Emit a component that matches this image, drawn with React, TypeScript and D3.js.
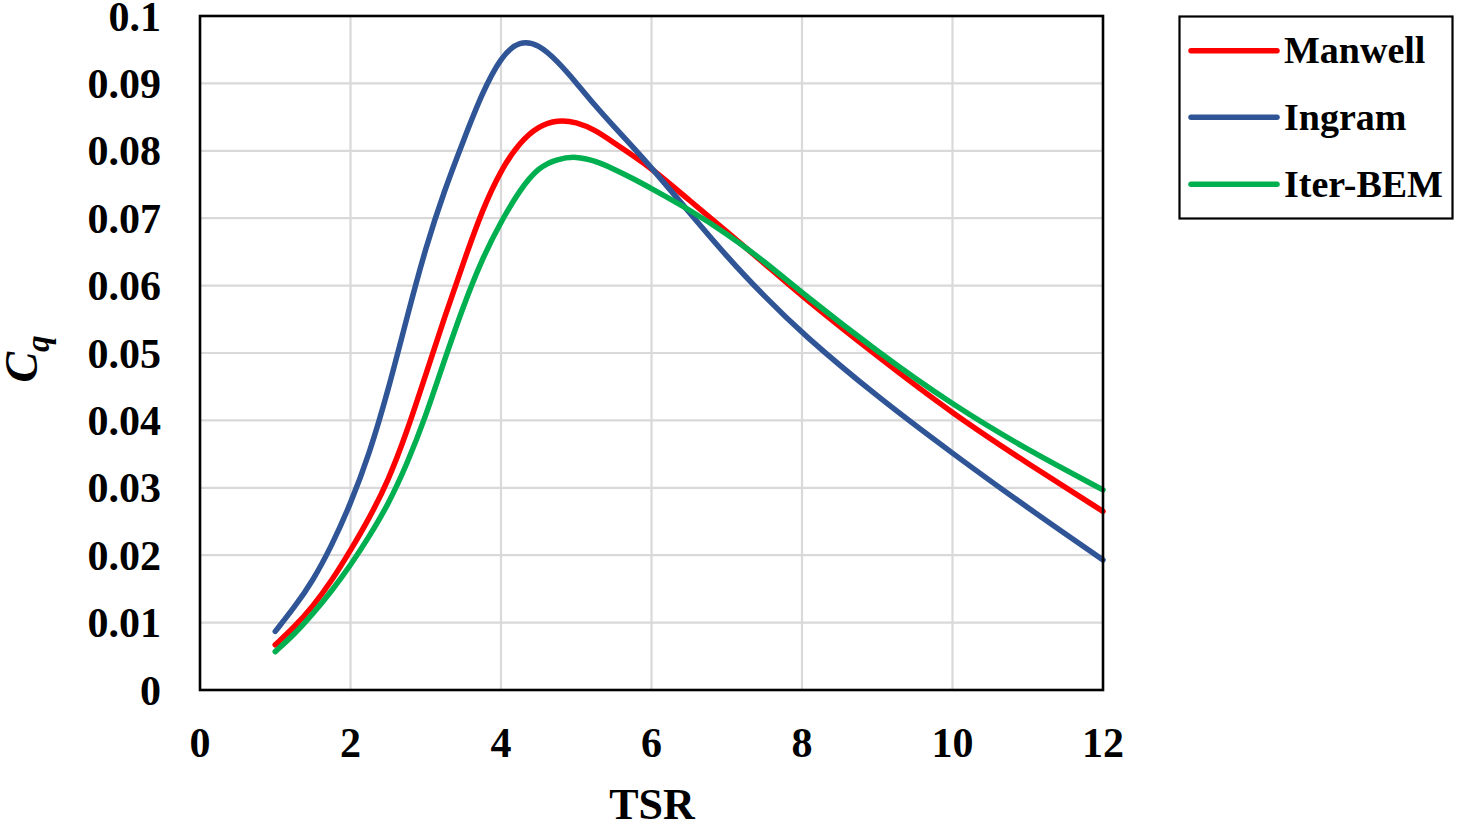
import React from "react";
import * as d3 from "d3";

const tsr = [1, 1.25, 1.5, 1.75, 2, 2.25, 2.5, 2.75, 3, 3.25, 3.5, 3.75, 4, 4.25, 4.5, 4.75, 5, 5.25, 5.5, 5.75, 6, 6.5, 7, 7.5, 8, 9, 10, 11, 12];
const manwell = [0.0067, 0.0093, 0.0124, 0.0162, 0.0207, 0.0255, 0.031, 0.0383, 0.0468, 0.0553, 0.0634, 0.0712, 0.0772, 0.0813, 0.0837, 0.0846, 0.0843, 0.0831, 0.0812, 0.0793, 0.0774, 0.0727, 0.068, 0.0633, 0.0584, 0.0495, 0.041, 0.0336, 0.0265];
const ingram = [0.0087, 0.0122, 0.0162, 0.0214, 0.0276, 0.035, 0.0444, 0.0553, 0.0657, 0.0742, 0.0815, 0.0886, 0.0940, 0.0964, 0.0958, 0.0933, 0.0901, 0.0867, 0.0836, 0.0806, 0.0775, 0.0709, 0.0643, 0.0584, 0.0529, 0.0435, 0.0351, 0.027, 0.0193];
const iterBem = [0.0057, 0.0082, 0.0113, 0.0147, 0.0185, 0.0228, 0.0275, 0.0335, 0.0406, 0.049, 0.057, 0.064, 0.0695, 0.0742, 0.0776, 0.0788, 0.0792, 0.0785, 0.0773, 0.0759, 0.0744, 0.0713, 0.0677, 0.0636, 0.0589, 0.0502, 0.0423, 0.0356, 0.0297];

const seriesNames = ["Manwell", "Ingram", "Iter-BEM"];
const seriesColors = ["#FF0000", "#2F5597", "#00B050"];
const seriesValues = [manwell, ingram, iterBem];

const xTicks = [0, 2, 4, 6, 8, 10, 12];
const yTicks = [0, 0.01, 0.02, 0.03, 0.04, 0.05, 0.06, 0.07, 0.08, 0.09, 0.1];
const yTickLabels = ["0", "0.01", "0.02", "0.03", "0.04", "0.05", "0.06", "0.07", "0.08", "0.09", "0.1"];

const FONT = "'Liberation Serif', 'Times New Roman', serif";

export default function App() {
  const W = 1457;
  const H = 824;
  const x = d3.scaleLinear().domain([0, 12]).range([200, 1103]);
  const y = d3.scaleLinear().domain([0, 0.1]).range([690, 16]);

  const line = d3
    .line<[number, number]>()
    .x((d) => x(d[0]))
    .y((d) => y(d[1]))
    .curve(d3.curveBasis);

  const legendX0 = 1191;
  const legendX1 = 1277;
  const legendYs = [50.7, 117.3, 184.3];

  return (
    <svg
      width={W}
      height={H}
      style={{ position: "absolute", left: 0, top: 0, background: "#fff" }}
      fontFamily={FONT}
    >
      <rect x={0} y={0} width={W} height={H} fill="#fff" />
      {yTicks.slice(1).map((t) => (
        <line key={"gy" + t} x1={x(0)} x2={x(12)} y1={y(t)} y2={y(t)} stroke="#D9D9D9" strokeWidth={2.2} />
      ))}
      {xTicks.slice(1, -1).map((t) => (
        <line key={"gx" + t} x1={x(t)} x2={x(t)} y1={y(0)} y2={y(0.1)} stroke="#D9D9D9" strokeWidth={2.2} />
      ))}
      {seriesValues.map((vals, i) => (
        <path
          key={seriesNames[i]}
          d={line(tsr.map((t, j) => [t, vals[j]] as [number, number])) || ""}
          fill="none"
          stroke={seriesColors[i]}
          strokeWidth={5.5}
          strokeLinecap="round"
          strokeLinejoin="round"
        />
      ))}
      <rect x={x(0)} y={y(0.1)} width={x(12) - x(0)} height={y(0) - y(0.1)} fill="none" stroke="#000" strokeWidth={2.6} />
      {yTicks.map((t, i) => (
        <text key={"yl" + t} x={161} y={y(t) + 14.5} textAnchor="end" fontSize={42} fontWeight="bold" fill="#000">
          {yTickLabels[i]}
        </text>
      ))}
      {xTicks.map((t) => (
        <text key={"xl" + t} x={x(t)} y={757} textAnchor="middle" fontSize={42} fontWeight="bold" fill="#000">
          {t}
        </text>
      ))}
      <text x={652} y={819} textAnchor="middle" fontSize={44} fontWeight="bold" fill="#000">
        TSR
      </text>
      <text
        transform="translate(37,359) rotate(-90)"
        textAnchor="middle"
        fontSize={46}
        fontWeight="bold"
        fontStyle="italic"
        fill="#000"
      >
        C<tspan fontSize={33} dy={12}>q</tspan>
      </text>
      <rect x={1179.5} y={16.5} width={273} height={202} fill="#fff" stroke="#000" strokeWidth={2.2} />
      {seriesNames.map((n, i) => (
        <g key={"lg" + n}>
          <line x1={legendX0} x2={legendX1} y1={legendYs[i]} y2={legendYs[i]} stroke={seriesColors[i]} strokeWidth={5.5} strokeLinecap="round" />
          <text x={1284} y={legendYs[i] + 12.5} fontSize={38} fontWeight="bold" fill="#000">
            {n}
          </text>
        </g>
      ))}
    </svg>
  );
}
